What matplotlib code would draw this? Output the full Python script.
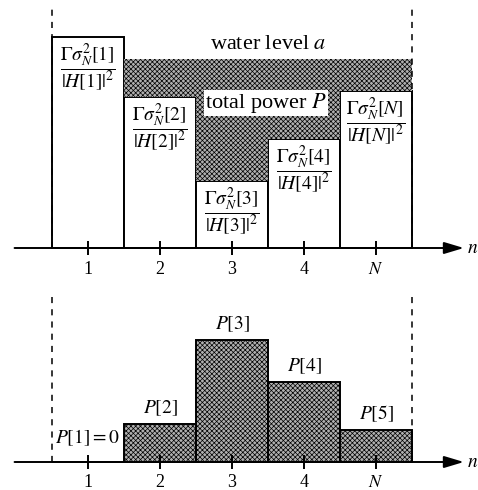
# water-filling illustration: noise-to-gain levels and resulting power allocation
import matplotlib
matplotlib.use("Agg")
import matplotlib.pyplot as plt
import numpy as np

plt.rcParams['font.family'] = ['Liberation Serif', 'DejaVu Serif']
plt.rcParams['mathtext.fontset'] = 'stix'
plt.rcParams['hatch.linewidth'] = 0.5

# data (arbitrary height units)
idx = [1, 2, 3, 4, 5]
tick_labels = ['1', '2', '3', '4', '$N$']
noise_labels = ['1', '2', '3', '4', 'N']
noise_level = [211, 151, 67, 109, 157]     # Gamma sigma^2 / |H|^2
water_level = 189
power = [0, 38, 122, 80, 32]               # P[n]
power_labels = ['$P[1]=0$', '$P[2]$', '$P[3]$', '$P[4]$', '$P[5]$']

fig = plt.figure(figsize=(4.78, 4.9), dpi=100)
ax1 = fig.add_axes([0, 1 - 290/490, 1, 290/490])
ax2 = fig.add_axes([0, 0, 1, 200/490])

xlim = (1 - 88/72, 1 + 390/72)
ax1.set_xlim(xlim); ax1.set_ylim(-42, 248)
ax2.set_xlim(xlim); ax2.set_ylim(-28, 172)

lw = 1.4
hatch = 'xxxxxxx'
shade = '#b0b0b0'


def base_axis(ax, top, lab_y):
    ax.axis('off')
    ax.annotate('', xy=(6.22, 0), xytext=(-0.02, 0),
                arrowprops=dict(arrowstyle='-|>,head_length=1.2,head_width=0.36',
                                lw=lw, color='k', shrinkA=0, shrinkB=0))
    ax.text(6.26, 0, '$n$', fontsize=14, ha='left', va='center')
    ax.vlines(idx, -7, 7, color='k', lw=lw)
    for x, t in zip(idx, tick_labels):
        ax.text(x, lab_y, t, fontsize=13, ha='center', va='center')
    ax.vlines([0.5, 5.5], 0, top, color='k', lw=1.1, linestyles=(0, (4, 4)))


# top panel
base_axis(ax1, 240, -22)
ax1.bar(idx, noise_level, width=1, facecolor='white', edgecolor='k', lw=lw)
ax1.bar(idx, power, width=1, bottom=noise_level, facecolor=shade,
        edgecolor='k', hatch=hatch, lw=0)
for x, h, s in zip(idx, noise_level, noise_labels):
    ax1.text(x, h - 31, r'$\dfrac{\Gamma\sigma_N^2[%s]}{|H[%s]|^2}$' % (s, s),
             fontsize=14, ha='center', va='center')
ax1.text(3.5, 204, 'water level $a$', fontsize=16, ha='center', va='center')
ax1.text(3.47, 145, 'total power $P$', fontsize=16, ha='center', va='center',
         bbox=dict(facecolor='white', edgecolor='none', pad=1.0))

# bottom panel
base_axis(ax2, 169, -20)
ax2.bar(idx, power, width=1, facecolor=shade, edgecolor='k', hatch=hatch, lw=lw)
for x, p, s in zip(idx, power, power_labels):
    y = 24 if p == 0 else p + 16
    ax2.text(x, y, s, fontsize=14, ha='center', va='center')

fig.savefig('out.png', dpi=100)
